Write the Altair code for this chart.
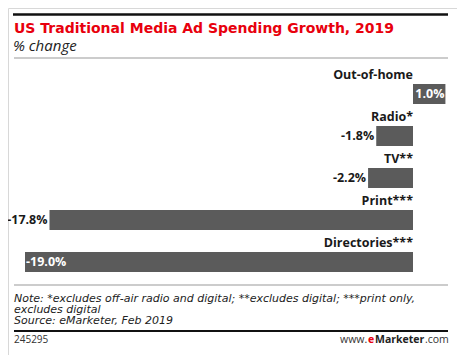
import altair as alt
import pandas as pd

categories = ["Out-of-home", "Radio*", "TV**", "Print***", "Directories***"]
values = [1.0, -1.8, -2.2, -17.8, -19.0]

title_text = "US Traditional Media Ad Spending Growth, 2019"
subtitle_text = "% change"
note_lines = [
    "Note: *excludes off-air radio and digital; **excludes digital; ***print only,",
    "excludes digital",
    "Source: eMarketer, Feb 2019",
]
chart_id = "245295"

FONT = "Open Sans"
WIDE = "DejaVu Sans"
BAR = "#5b5b5b"
RED = "#e8000d"
DARK = "#1a1a1a"

df = pd.DataFrame({"category": categories, "value": values})
base = alt.Chart(df).transform_calculate(
    label="(datum.value < 0 ? '-' : '') + format(abs(datum.value), '.1f') + '%'",
    zero="0",
)

xs = alt.Scale(domain=[-19, 0], range=[17, 405], nice=False, zero=False)
ys = alt.Scale(domain=categories, range=[76, 264], paddingInner=0.5238, paddingOuter=0)
X = alt.X("value:Q", scale=xs, axis=None)
X2 = alt.X2("zero:Q")
Y = alt.Y("category:N", scale=ys, axis=None)

bars_neg = base.transform_filter("datum.value < 0").mark_bar(color=BAR).encode(x=X, x2=X2, y=Y)
bars_pos = base.transform_filter("datum.value >= 0").mark_bar(color=BAR, xOffset=12).encode(x=X, x2=X2, y=Y)

cat_labels = base.mark_text(align="right", baseline="middle", dy=-19, font=FONT,
                            fontWeight="bold", fontSize=12.5, color=DARK).encode(
    x=alt.X("zero:Q", scale=xs, axis=None), y=Y, text="category:N")

lab_out = base.transform_filter("datum.value < 0 && datum.value > -18.5").mark_text(
    align="right", baseline="middle", dx=-2, font=FONT, fontWeight="bold",
    fontSize=12.5, color=DARK).encode(x=X, y=Y, text="label:N")
lab_in_neg = base.transform_filter("datum.value <= -18.5").mark_text(
    align="left", baseline="middle", dx=1, font=FONT, fontWeight="bold",
    fontSize=12.5, color="white").encode(x=X, y=Y, text="label:N")
lab_in_pos = base.transform_filter("datum.value >= 0").mark_text(
    align="right", baseline="middle", dx=11, font=FONT, fontWeight="bold",
    fontSize=12.5, color="white").encode(x=X, y=Y, text="label:N")


def txt(s, x, y, size, color=DARK, weight="normal", style="normal", align="left", font=FONT):
    return alt.Chart(pd.DataFrame({"t": [s]})).mark_text(
        align=align, baseline="alphabetic", font=font, fontSize=size,
        fontWeight=weight, fontStyle=style, color=color
    ).encode(x=alt.value(x), y=alt.value(y), text="t:N")


def hline(x1, x2, y, color, width):
    return alt.Chart(pd.DataFrame({"a": [0]})).mark_rule(color=color, strokeWidth=width).encode(
        x=alt.value(x1), x2=alt.value(x2), y=alt.value(y))


decor = [
    hline(5, 440, 6.5, "#111111", 2.5),
    txt(title_text, 6, 25, 14, RED, "bold", font=WIDE),
    txt(subtitle_text, 5, 43, 15, "#222222", style="italic"),
    hline(6, 440, 50, "#999999", 1.2),
    hline(6, 440, 277, "#999999", 1.2),
    txt(note_lines[0], 6, 293.5, 11, "#222222", style="italic", font=WIDE),
    txt(note_lines[1], 6, 304.5, 11, "#222222", style="italic", font=WIDE),
    txt(note_lines[2], 6, 316, 11, "#222222", style="italic", font=WIDE),
    hline(6, 440, 323, "#111111", 2),
    txt(chart_id, 6, 334.5, 10, "#333333"),
    txt("www.", 332, 334.5, 10.5, "#333333"),
    txt("e", 360, 334.5, 10.5, RED, "bold"),
    txt("Marketer", 367, 334.5, 10.5, "#222222", "bold"),
    txt(".com", 417, 334.5, 10.5, "#333333"),
]

chart = alt.layer(
    bars_neg, bars_pos, cat_labels, lab_out, lab_in_neg, lab_in_pos, *decor
).properties(
    width=449, height=347, autosize=alt.AutoSizeParams(type="none"), padding=0,
    background="white"
).configure_view(stroke="#d8d8d8", strokeWidth=1)

chart.save("out.html", embed_options={"renderer": "svg", "actions": False})
